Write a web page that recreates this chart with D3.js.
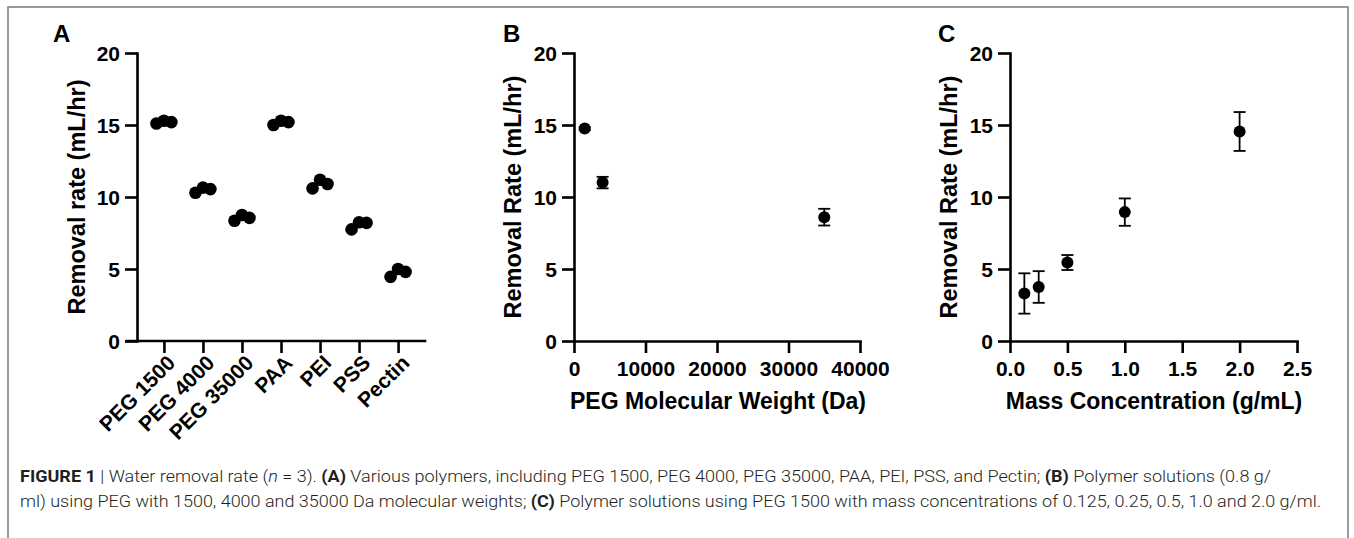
<!DOCTYPE html>
<html>
<head>
<meta charset="utf-8">
<script src="https://cdn.jsdelivr.net/npm/d3@7"></script>
<style>
  body { margin: 0; background: #fff; }
  svg { display: block; }
  .tick text { font-family: "Liberation Sans", Arial, sans-serif; font-weight: bold; font-size: 21px; fill: #000; }
</style>
</head>
<body>
<div id="chart"></div>
<script>
// panel A: three replicates per polymer
var polymers = ["PEG 1500", "PEG 4000", "PEG 35000", "PAA", "PEI", "PSS", "Pectin"];
var polymerReps = [
    [15.1, 15.3, 15.2],
    [10.3, 10.65, 10.55],
    [8.35, 8.75, 8.55],
    [15.0, 15.3, 15.2],
    [10.6, 11.2, 10.9],
    [7.75, 8.25, 8.2],
    [4.45, 5.0, 4.8]
];

// panel B: PEG molecular weight
var mwValues = [1500, 4000, 35000];
var mwRate = [14.75, 11.0, 8.6];
var mwErr = [0.1, 0.4, 0.58];

// panel C: mass concentration
var concValues = [0.125, 0.25, 0.5, 1.0, 2.0];
var concRate = [3.3, 3.75, 5.45, 8.95, 14.55];
var concErr = [1.4, 1.1, 0.52, 0.95, 1.35];

var yTicks = [0, 5, 10, 15, 20];
var mwTicks = [0, 10000, 20000, 30000, 40000];
var concTicks = [0, 0.5, 1.0, 1.5, 2.0, 2.5];

var captionLine1 = [
    ["FIGURE 1", "bold"], [" | ", "normal"], ["Water removal rate (", "normal"], ["n", "italic"], [" = 3). ", "normal"],
    ["(A)", "bold"], [" Various polymers, including PEG 1500, PEG 4000, PEG 35000, PAA, PEI, PSS, and Pectin; ", "normal"],
    ["(B)", "bold"], [" Polymer solutions (0.8 g/", "normal"]
];
var captionLine2 = [
    ["ml) using PEG with 1500, 4000 and 35000 Da molecular weights; ", "normal"],
    ["(C)", "bold"], [" Polymer solutions using PEG 1500 with mass concentrations of 0.125, 0.25, 0.5, 1.0 and 2.0 g/ml.", "normal"]
];

var w = 1354, h = 538;
var font = '"Liberation Sans", Arial, sans-serif';
var yTop = 53, yBottom = 341;

var svg = d3.select("#chart").append("svg")
    .attr("width", w)
    .attr("height", h);

// frame
svg.append("rect")
    .attr("x", 8).attr("y", 7)
    .attr("width", 1340).attr("height", 545)
    .attr("fill", "none")
    .attr("stroke", "#7a7a7a")
    .attr("stroke-width", 1.5);

var yScale = d3.scaleLinear().domain([0, 20]).range([yBottom, yTop]);

function styleAxis(g) {
    g.selectAll("path, line").attr("stroke", "#000").attr("stroke-width", 2.6);
    g.select(".domain").attr("stroke-linecap", "square");
}

function drawYAxis(x0, label, labelX, letter, letterX) {
    var g = svg.append("g")
        .attr("transform", "translate(" + x0 + ",0)")
        .call(d3.axisLeft(yScale).tickValues(yTicks).tickSize(12).tickPadding(5).tickSizeOuter(0));
    styleAxis(g);
    g.selectAll(".tick text").attr("dy", "0.36em");

    svg.append("text")
        .attr("transform", "translate(" + labelX + "," + ((yTop + yBottom) / 2) + ") rotate(-90)")
        .attr("text-anchor", "middle")
        .attr("dy", "0.35em")
        .style("font-family", font).style("font-weight", "bold").style("font-size", "23.5px")
        .text(label);

    svg.append("text")
        .attr("x", letterX).attr("y", 42)
        .style("font-family", font).style("font-weight", "bold").style("font-size", "24px")
        .text(letter);
}

function errorBars(x, yVals, errs) {
    var cap = 6;
    var g = svg.append("g");
    yVals.forEach(function(d, i) {
        var cx = x(i);
        var y1 = yScale(d + errs[i]), y2 = yScale(d - errs[i]);
        g.append("line").attr("x1", cx).attr("x2", cx).attr("y1", y1).attr("y2", y2);
        g.append("line").attr("x1", cx - cap).attr("x2", cx + cap).attr("y1", y1).attr("y2", y1);
        g.append("line").attr("x1", cx - cap).attr("x2", cx + cap).attr("y1", y2).attr("y2", y2);
    });
    g.selectAll("line").attr("stroke", "#000").attr("stroke-width", 1.8);
}

// ---------- Panel A ----------
var xA = d3.scalePoint().domain(polymers).range([137, 425]).padding(0.69);
var jitter = [-7.5, 0, 7.5];

var gA = svg.append("g")
    .attr("transform", "translate(0," + yBottom + ")")
    .call(d3.axisBottom(xA).tickSize(12).tickSizeOuter(0));
styleAxis(gA);
gA.select(".domain").attr("d", "M" + 127 + ",0H425");
gA.selectAll(".tick text")
    .attr("text-anchor", "end")
    .attr("transform", "translate(7,18) rotate(-45)")
    .attr("x", 0).attr("y", 0).attr("dy", "0.35em");

drawYAxis(137, "Removal rate (mL/hr)", 77, "A", 53);

polymerReps.forEach(function(reps, i) {
    svg.append("g").selectAll("circle")
        .data(reps)
        .enter()
        .append("circle")
        .attr("cx", function(d, j) { return xA(polymers[i]) + jitter[j]; })
        .attr("cy", function(d) { return yScale(d); })
        .attr("r", 6.3)
        .attr("fill", "#000");
});

// ---------- Panel B ----------
var xB = d3.scaleLinear().domain([0, 40000]).range([574, 860]);
var gB = svg.append("g")
    .attr("transform", "translate(0," + yBottom + ")")
    .call(d3.axisBottom(xB).tickValues(mwTicks).tickFormat(d3.format("d")).tickSize(12).tickPadding(8).tickSizeOuter(0));
styleAxis(gB);
drawYAxis(574, "Removal Rate (mL/hr)", 513, "B", 503);

svg.append("text")
    .attr("x", 718).attr("y", 409)
    .attr("text-anchor", "middle")
    .style("font-family", font).style("font-weight", "bold").style("font-size", "23px")
    .text("PEG Molecular Weight (Da)");

errorBars(function(i) { return xB(mwValues[i]); }, mwRate, mwErr);
svg.append("g").selectAll("circle")
    .data(mwRate)
    .enter()
    .append("circle")
    .attr("cx", function(d, i) { return xB(mwValues[i]); })
    .attr("cy", function(d) { return yScale(d); })
    .attr("r", 6)
    .attr("fill", "#000");

// ---------- Panel C ----------
var xC = d3.scaleLinear().domain([0, 2.5]).range([1010, 1297]);
var gC = svg.append("g")
    .attr("transform", "translate(0," + yBottom + ")")
    .call(d3.axisBottom(xC).tickValues(concTicks).tickFormat(d3.format(".1f")).tickSize(12).tickPadding(8).tickSizeOuter(0));
styleAxis(gC);
drawYAxis(1010, "Removal Rate (mL/hr)", 949, "C", 938);

svg.append("text")
    .attr("x", 1154).attr("y", 409)
    .attr("text-anchor", "middle")
    .style("font-family", font).style("font-weight", "bold").style("font-size", "23px")
    .text("Mass Concentration (g/mL)");

errorBars(function(i) { return xC(concValues[i]); }, concRate, concErr);
svg.append("g").selectAll("circle")
    .data(concRate)
    .enter()
    .append("circle")
    .attr("cx", function(d, i) { return xC(concValues[i]); })
    .attr("cy", function(d) { return yScale(d); })
    .attr("r", 6)
    .attr("fill", "#000");

// ---------- caption ----------
function captionLine(parts, y, len) {
    var t = svg.append("text")
        .attr("x", 20).attr("y", y)
        .attr("textLength", len)
        .attr("lengthAdjust", "spacingAndGlyphs")
        .style("font-family", "Roboto, 'Liberation Sans', sans-serif")
        .style("font-size", "16px")
        .style("fill", "#231f20");
    parts.forEach(function(p) {
        t.append("tspan")
            .style("font-weight", p[1] == "bold" ? "bold" : "300")
            .style("font-style", p[1] == "italic" ? "italic" : "normal")
            .text(p[0]);
    });
}
captionLine(captionLine1, 482, 1251);
captionLine(captionLine2, 507, 1301);
</script>
</body>
</html>
